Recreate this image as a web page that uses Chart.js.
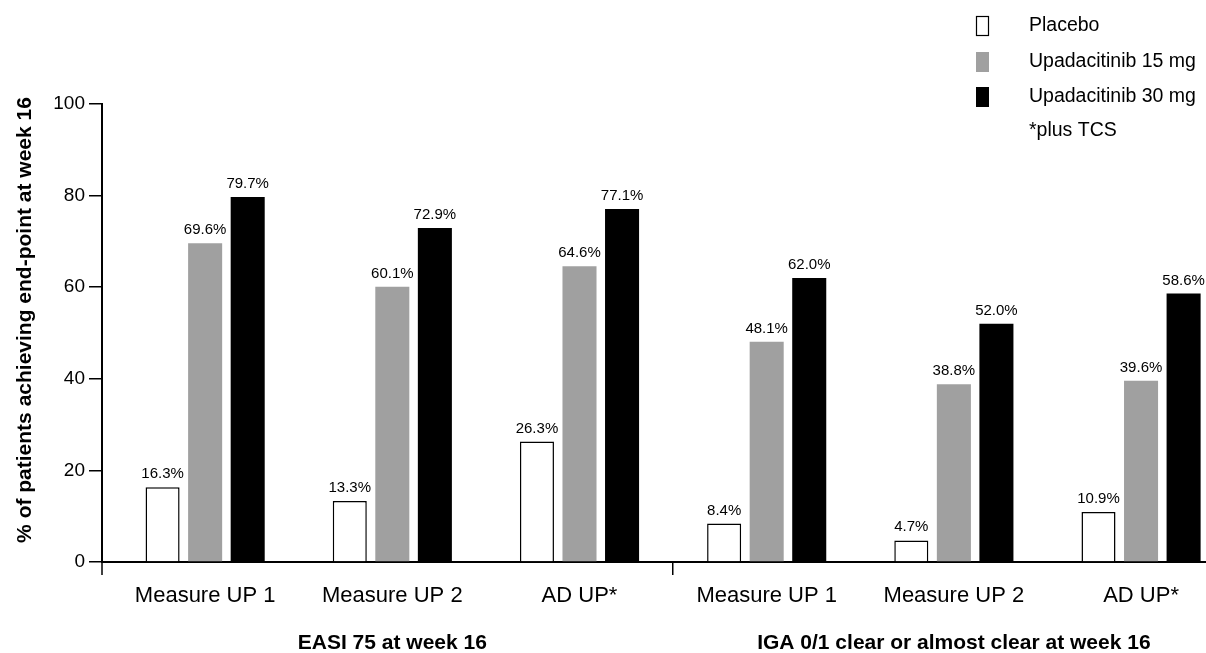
<!DOCTYPE html>
<html>
<head>
<meta charset="utf-8">
<title>Upadacitinib week 16</title>
<script src="https://cdn.jsdelivr.net/npm/chart.js@4.4.1/dist/chart.umd.min.js"></script>
<style>
  html, body { margin: 0; padding: 0; background: #fff; overflow: hidden; }
  #wrap { width: 1206px; height: 653px; }
</style>
</head>
<body>
<div id="wrap"><canvas id="chart" width="1206" height="653"></canvas></div>
<script>
// Dados
const categories = ["Measure UP 1", "Measure UP 2", "AD UP*", "Measure UP 1", "Measure UP 2", "AD UP*"];
const groupTitles = ["EASI 75 at week 16", "IGA 0/1 clear or almost clear at week 16"];
const placebo = [16.3, 13.3, 26.3, 8.4, 4.7, 10.9];
const upa15 = [69.6, 60.1, 64.6, 48.1, 38.8, 39.6];
const upa30 = [79.7, 72.9, 77.1, 62.0, 52.0, 58.6];
const yTicks = [0, 20, 40, 60, 80, 100];
const seriesNames = ["Placebo", "Upadacitinib 15 mg", "Upadacitinib 30 mg"];
const footnote = "*plus TCS";
const yTitle = "% of patients achieving end-point at week 16";

const FONT = '"Liberation Sans", Arial, Helvetica, sans-serif';
Chart.defaults.font.family = FONT;
Chart.defaults.color = "#000";

const colors = ["#ffffff", "#a0a0a0", "#000000"];

// Rótulos, títulos e legenda desenhados à mão
const extras = {
  id: "extras",
  afterDatasetsDraw(chart) {
    const ctx = chart.ctx;
    ctx.save();
    ctx.fillStyle = "#000";
    ctx.font = "15px " + FONT;
    ctx.textAlign = "center";
    ctx.textBaseline = "alphabetic";
    chart.data.datasets.forEach((ds, di) => {
      chart.getDatasetMeta(di).data.forEach((bar, i) => {
        ctx.fillText(ds.data[i].toFixed(1) + "%", bar.x, bar.y - 9);
      });
    });
    ctx.restore();
  },
  afterDraw(chart) {
    const ctx = chart.ctx;
    const area = chart.chartArea;
    const x = chart.scales.x;
    ctx.save();

    // prolongamento do eixo y abaixo do eixo x
    ctx.strokeStyle = "#000";
    ctx.lineWidth = 1.5;
    ctx.beginPath();
    ctx.moveTo(area.left, area.bottom);
    ctx.lineTo(area.left, area.bottom + 13);
    ctx.stroke();

    // títulos dos grupos
    ctx.fillStyle = "#000";
    ctx.font = "bold 21px " + FONT;
    ctx.textAlign = "center";
    ctx.textBaseline = "alphabetic";
    ctx.fillText(groupTitles[0], x.getPixelForValue(1), 649);
    ctx.fillText(groupTitles[1], x.getPixelForValue(4), 649);

    // título do eixo y
    ctx.save();
    ctx.translate(25, 320);
    ctx.rotate(-Math.PI / 2);
    ctx.textBaseline = "middle";
    ctx.fillText(yTitle, 0, 0);
    ctx.restore();

    // legenda
    const rows = [26, 62, 97, 131];
    ctx.font = "19.5px " + FONT;
    ctx.textAlign = "left";
    ctx.textBaseline = "middle";
    seriesNames.forEach((name, i) => {
      ctx.fillStyle = colors[i];
      ctx.fillRect(976, rows[i] - 10, 13, 20);
      if (i === 0) {
        ctx.lineWidth = 1.2;
        ctx.strokeStyle = "#000";
        ctx.strokeRect(976.5, rows[i] - 9.5, 12, 19);
      }
      ctx.fillStyle = "#000";
      ctx.fillText(name, 1029, rows[i]);
    });
    ctx.fillText(footnote, 1029, rows[3]);
    ctx.restore();
  },
};

const barStyle = { categoryPercentage: 0.682, barPercentage: 0.8 };

const chart = new Chart(document.getElementById("chart").getContext("2d"), {
  type: "bar",
  data: {
    labels: categories,
    datasets: [
      { label: seriesNames[0], data: placebo, backgroundColor: colors[0], borderColor: "#000", borderWidth: 1.5, ...barStyle },
      { label: seriesNames[1], data: upa15, backgroundColor: colors[1], borderWidth: 0, ...barStyle },
      { label: seriesNames[2], data: upa30, backgroundColor: colors[2], borderWidth: 0, ...barStyle },
    ],
  },
  options: {
    responsive: false,
    animation: false,
    devicePixelRatio: 1,
    layout: { padding: { top: 104, right: 0, bottom: 0, left: 0 } },
    plugins: {
      legend: { display: false },
      tooltip: { enabled: false },
    },
    scales: {
      x: {
        offset: true,
        grid: {
          display: true,
          drawOnChartArea: false,
          offset: true,
          tickLength: 13,
          lineWidth: 1.5,
          tickColor: (c) => (c.index === 3 ? "#000" : "rgba(0,0,0,0)"),
        },
        border: { display: true, color: "#000", width: 2 },
        ticks: {
          color: "#000",
          font: { size: 22 },
          padding: 8,
          maxRotation: 0,
          autoSkip: false,
        },
        // grupos com espaçamento de 187px, o eixo segue até a borda direita
        afterBuildTicks: (s) => {
          s._startValue = -0.551;
          s._valueRange = 5.898;
        },
        afterFit: (s) => {
          s.height = 91;
        },
      },
      y: {
        min: 0,
        max: 100,
        afterBuildTicks: (s) => {
          s.ticks = yTicks.map((v) => ({ value: v }));
        },
        grid: {
          display: true,
          drawOnChartArea: false,
          tickLength: 13,
          lineWidth: 1.5,
          tickColor: "#000",
        },
        border: { display: true, color: "#000", width: 2 },
        ticks: {
          color: "#000",
          font: { size: 19 },
          padding: 4,
        },
        afterFit: (s) => {
          s.width = 102;
        },
      },
    },
  },
  plugins: [extras],
});
</script>
</body>
</html>
